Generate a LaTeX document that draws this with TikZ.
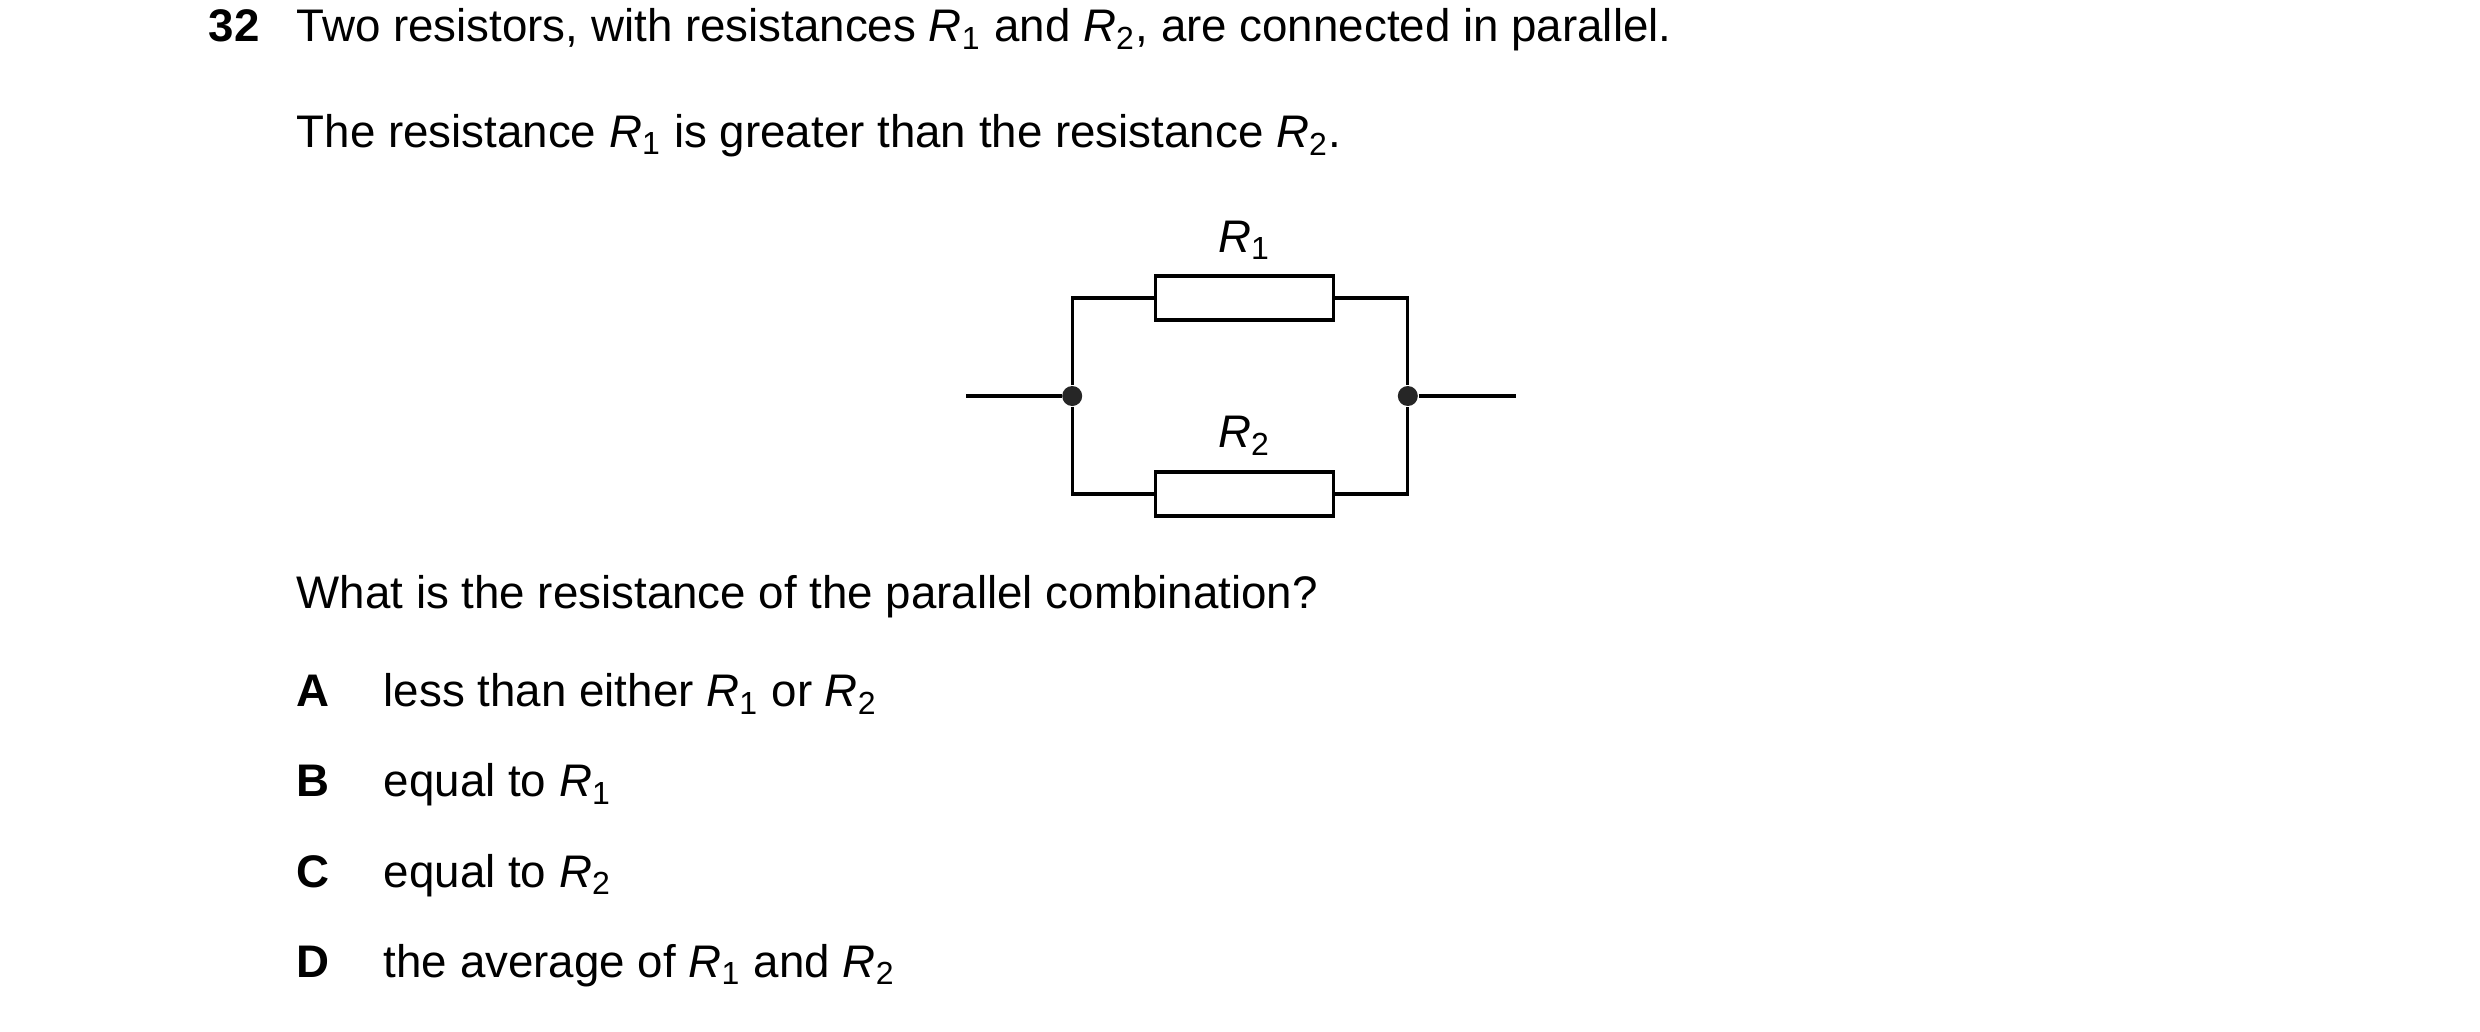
\documentclass[tikz,border=0pt]{standalone}
\usepackage{fontspec}
\setmainfont{Liberation Sans}
\usetikzlibrary{positioning}
\tikzset{
  txt/.style={anchor=base west, inner sep=0pt, font=\fontsize{13}{15}\selectfont},
  lbl/.style={inner sep=0pt, font=\fontsize{13}{15}\selectfont},
  res/.style={draw, line width=0.9pt, minimum width=1.78cm, minimum height=0.44cm, inner sep=0pt},
  wire/.style={line width=0.9pt},
  dot/.style={circle, fill=black!85, inner sep=0pt, minimum size=0.2cm}
}
\newcommand{\Ri}{\textit{R}\textsubscript{1}}
\newcommand{\Rii}{\textit{R}\textsubscript{2}}
\begin{document}
\begin{tikzpicture}[scale=0.99]
\useasboundingbox (0,0) rectangle (25.05,-10.424);
% question text
\node[txt, font=\fontsize{13}{15}\selectfont\bfseries] (num) at (2.10,-0.42) {32};
\node[txt] (q1) at (2.99,-0.42) {Two resistors, with resistances \Ri\ and \Rii, are connected in parallel.};
\node[txt] (q2) at (2.99,-1.49) {The resistance \Ri\ is greater than the resistance \Rii.};
% circuit
\coordinate (inL) at (9.76,-4.00);
\coordinate (inR) at (15.31,-4.00);
\node[dot] (jL) at (10.83,-4.00) {};
\node[dot] (jR) at (14.22,-4.00) {};
\node[res] (r1) at (12.57,-3.01) {};
\node[res] (r2) at (12.57,-4.99) {};
\node[lbl, above=0.14cm of r1] (l1) {\Ri};
\node[lbl, above=0.14cm of r2] (l2) {\Rii};
\draw[wire] (inL) -- (jL) (jR) -- (inR);
\draw[wire] (jL) |- (r1.west) (r1.east) -| (jR);
\draw[wire] (jL) |- (r2.west) (r2.east) -| (jR);
% answers
\node[txt] (q3) at (2.99,-6.15) {What is the resistance of the parallel combination?};
\foreach \k/\t/\y in {A/{less than either \Ri\ or \Rii}/-7.14, B/{equal to \Ri}/-8.05, C/{equal to \Rii}/-8.96, D/{the average of \Ri\ and \Rii}/-9.87}{
  \node[txt, font=\fontsize{13}{15}\selectfont\bfseries] (opt\k) at (2.99,\y) {\k};
  \node[txt] (ans\k) at (3.87,\y) {\t};
}
\end{tikzpicture}
\end{document}
